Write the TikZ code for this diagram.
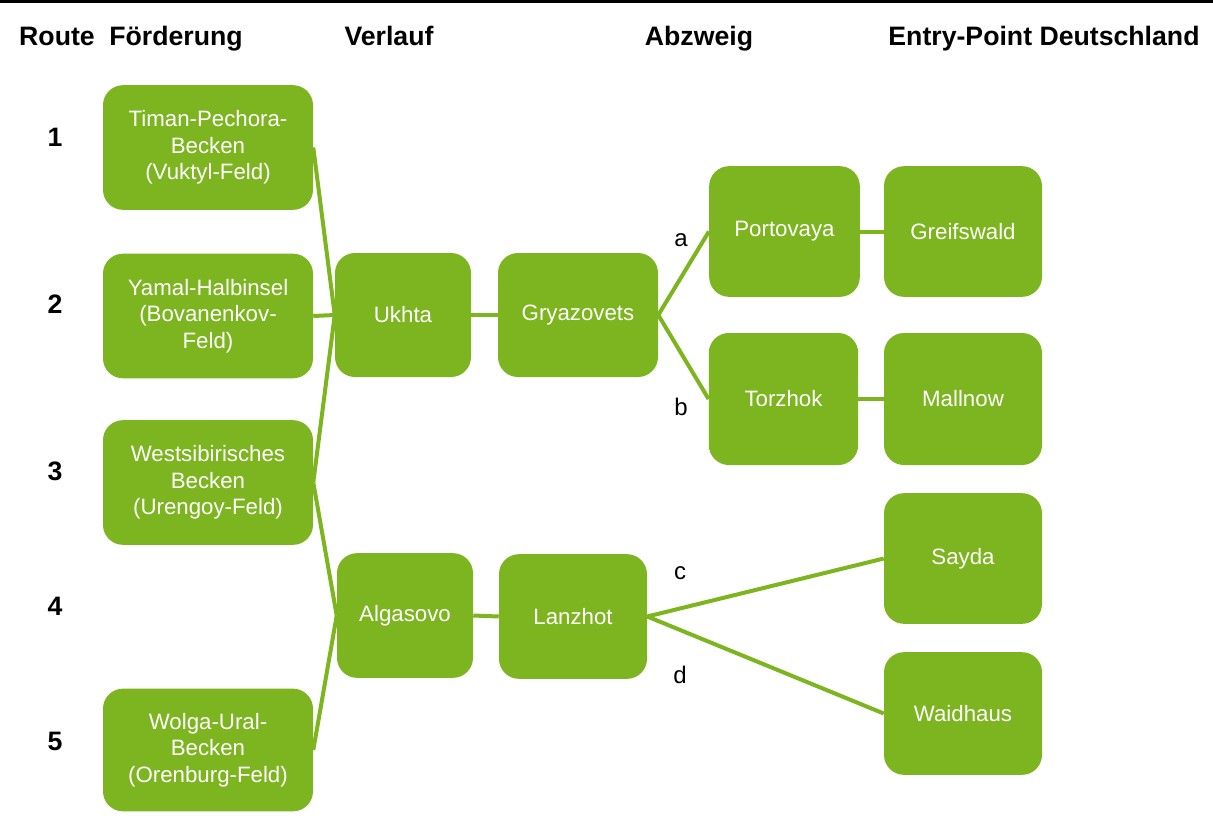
\documentclass[tikz,border=0pt]{standalone}
\usepackage{fontspec}
\setmainfont{Liberation Sans}
\usetikzlibrary{positioning}
\definecolor{pipeGreen}{HTML}{7CB51F}

\begin{document}
\begin{tikzpicture}[x=0.75pt, y=-0.75pt,
    gbox/.style={rectangle, rounded corners=15pt, fill=pipeGreen, text=white, inner sep=2pt,
      align=center, font=\fontsize{16.7}{20}\selectfont},
    field/.style={gbox, minimum width=157.5pt, minimum height=93.5pt},
    endp/.style={gbox, minimum width=118.5pt, minimum height=98pt},
    head/.style={anchor=base, font=\fontsize{20}{22}\selectfont\bfseries},
    num/.style={font=\fontsize{20}{22}\selectfont\bfseries},
    lbl/.style={font=\fontsize{18}{20}\selectfont},
    pipe/.style={draw=pipeGreen, line width=3pt}
  ]
  \useasboundingbox (0,0) rectangle (1213,819);
  \draw[line width=2pt] (0,1.3) -- (1213,1.3);

  \node[head] (hroute) at (57,45) {Route};
  \node[head] (hfoerd) at (176,45) {Förderung};
  \node[head] (hverl) at (389,45) {Verlauf};
  \node[head] (habzw) at (699,45) {Abzweig};
  \node[head] (hentry) at (1044,45) {Entry-Point Deutschland};

  \node[num] (r1) at (55,137) {1};
  \node[num] (r2) at (55,304) {2};
  \node[num] (r3) at (55,471) {3};
  \node[num] (r4) at (55,606) {4};
  \node[num] (r5) at (55,741) {5};

  \node[field] (timan) at (208,147.5) {Timan-Pechora-\\Becken\\(Vuktyl-Feld)};
  \node[field] (yamal) at (208,316) {Yamal-Halbinsel\\(Bovanenkov-\\Feld)};
  \node[field] (westsib) at (208,482.5) {Westsibirisches\\Becken\\(Urengoy-Feld)};
  \node[field, minimum height=92pt] (wolga) at (208,750) {Wolga-Ural-\\Becken\\(Orenburg-Feld)};

  \node[gbox, minimum width=102pt, minimum height=93pt] (ukhta) at (403,315) {Ukhta};
  \node[gbox, minimum width=120pt, minimum height=93pt] (gryaz) at (578,315) {Gryazovets};
  \node[gbox, minimum width=102pt, minimum height=93.5pt] (algas) at (405,615.5) {Algasovo};
  \node[gbox, minimum width=111pt, minimum height=93.5pt] (lanzhot) at (573,616.5) {Lanzhot};

  \node[gbox, minimum width=113pt, minimum height=98pt] (portov) at (784.5,231.5) {Portovaya};
  \node[gbox, minimum width=112pt, minimum height=99pt] (torzhok) at (783.5,399) {Torzhok};
  \node[endp] (greifsw) at (963,231.5) {Greifswald};
  \node[endp, minimum height=99pt] (mallnow) at (963,399) {Mallnow};
  \node[endp] (sayda) at (963,558.5) {Sayda};
  \node[endp, minimum height=92pt] (waidh) at (963,713.5) {Waidhaus};

  \draw[pipe] (timan.east) -- (ukhta.west);
  \draw[pipe] (yamal.east) -- (ukhta.west);
  \draw[pipe] (westsib.east) -- (ukhta.west);
  \draw[pipe] (westsib.east) -- (algas.west);
  \draw[pipe] (wolga.east) -- (algas.west);
  \draw[pipe] (ukhta.east) -- (gryaz.west);
  \draw[pipe] (algas.east) -- (lanzhot.west);
  \draw[pipe] (gryaz.east) -- (portov.west);
  \draw[pipe] (gryaz.east) -- (torzhok.west);
  \draw[pipe] (portov.east) -- (greifsw.west);
  \draw[pipe] (torzhok.east) -- (mallnow.west);
  \draw[pipe] (lanzhot.east) -- (sayda.west);
  \draw[pipe] (lanzhot.east) -- (waidh.west);

  \node[lbl] (la) at (681,240) {a};
  \node[lbl] (lb) at (681,407) {b};
  \node[lbl] (lc) at (680,573) {c};
  \node[lbl] (ld) at (680,675) {d};
\end{tikzpicture}
\end{document}
